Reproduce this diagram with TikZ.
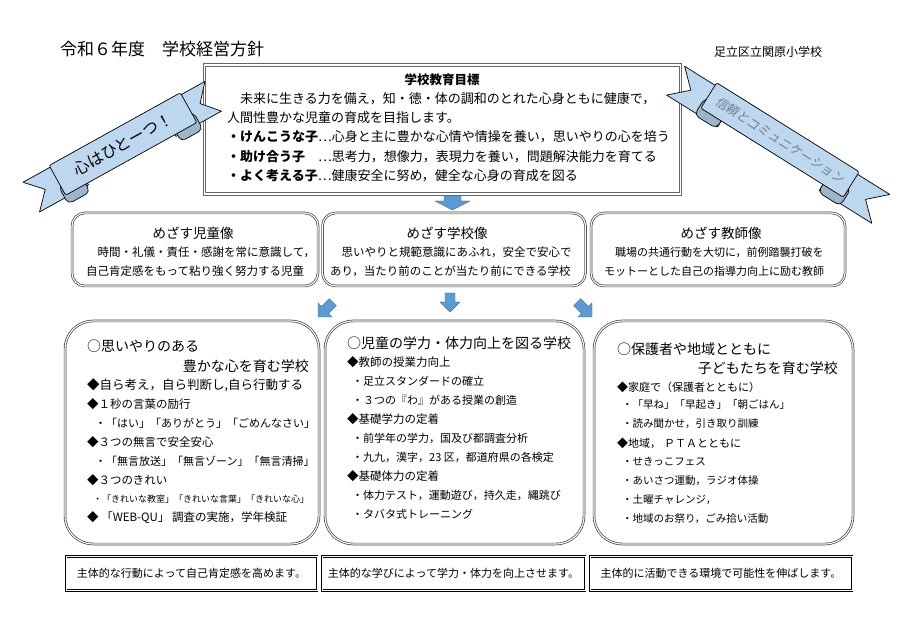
\documentclass[tikz,border=0pt]{standalone}
\usepackage{fontspec}
\setmainfont{Noto Sans CJK JP}
\newfontfamily\jpslant[FakeSlant=0.2]{Noto Sans CJK JP}
\newcommand{\jpsize}[1]{\fontsize{#1}{#1}\selectfont}
\definecolor{ribbonblue}{HTML}{BDD7EE}
\definecolor{ribbonfold}{HTML}{9DB4CB}
\definecolor{arrowblue}{HTML}{5B9BD5}
\definecolor{arrowedge}{HTML}{41719C}
\definecolor{slogangray}{HTML}{6E7F91}
\begin{document}
\begin{tikzpicture}[x=1pt,y=-1pt,
 txt/.style={anchor=west, inner sep=0pt},
 goalbox/.style={draw=black!60, double=white, double distance=1.3pt, line width=1.1pt, inner sep=0pt},
 midbox/.style={draw=black!75, double=white, double distance=1.1pt, line width=0.7pt, rounded corners=13pt, inner sep=0pt},
 bigbox/.style={midbox, rounded corners=28pt},
 stripbox/.style={draw=black, double=white, double distance=0.7pt, line width=1pt, inner sep=0pt},
 band/.style={fill=ribbonblue, draw=black, line width=0.7pt, line join=round},
 fold/.style={fill=ribbonfold, draw=black, line width=0.7pt, rounded corners=5pt},
 blockarrow/.style={fill=arrowblue, draw=arrowedge, line width=0.4pt, line join=round},
 head/.style={txt, font=\jpsize{14}},
 item/.style={txt, font=\jpsize{11.5}},
 sub/.style={txt, font=\jpsize{11}},
]
\useasboundingbox (0,0) rectangle (900,636);
\fill[white] (0,0) rectangle (900,636);

% header
\node[txt, font=\jpsize{17}] (title) at (60,49) {令和６年度　学校経営方針};
\node[txt, font=\jpsize{12}] (school) at (714,52) {足立区立関原小学校};

% goal box
\node[goalbox, minimum width=476pt, minimum height=129pt] (goal) at (442.5,129.5) {};
\node[font=\bfseries\jpsize{12.5}, inner sep=0pt] (goalT) at (442,80) {学校教育目標};
\begin{scope}[every node/.style={txt, font=\jpsize{13}}]
\node (g1) at (227,99) {　未来に生きる力を備え，知・徳・体の調和のとれた心身ともに健康で，};
\node (g2) at (227,118) {人間性豊かな児童の育成を目指します。};
\node (g3) at (227,137) {\textbf{・けんこうな子}…心身と主に豊かな心情や情操を養い，思いやりの心を培う};
\node (g4) at (227,157) {\textbf{・助け合う子}　…思考力，想像力，表現力を養い，問題解決能力を育てる};
\node (g5) at (227,176) {\textbf{・よく考える子}…健康安全に努め，健全な心身の育成を図る};
\end{scope}

% arrow below goal
\filldraw[blockarrow] (444,196) -- (461,196) -- (461,201) -- (470,201) -- (452.5,210) -- (435,201) -- (444,201) -- cycle;

% middle boxes
\node[midbox, minimum width=246pt, minimum height=73pt] (kidbox) at (195,249.5) {};
\node[midbox, minimum width=263pt, minimum height=73pt] (schbox) at (454,249.5) {};
\node[midbox, minimum width=254pt, minimum height=73pt] (teabox) at (718,249.5) {};
\node[font=\jpsize{13.5}, inner sep=0pt] (kidT) at (193,233) {めざす児童像};
\node[font=\jpsize{13.5}, inner sep=0pt] (schT) at (447,233) {めざす学校像};
\node[font=\jpsize{13.5}, inner sep=0pt] (teaT) at (721,233) {めざす教師像};
\begin{scope}[every node/.style={txt, font=\jpsize{11.5}}]
\node (k1) at (86,252) {　時間・礼儀・責任・感謝を常に意識して，};
\node (k2) at (86,271) {自己肯定感をもって粘り強く努力する児童};
\node (s1) at (330,252) {　思いやりと規範意識にあふれ，安全で安心で};
\node (s2) at (330,271) {あり，当たり前のことが当たり前にできる学校};
\end{scope}
\begin{scope}[every node/.style={txt, font=\jpsize{11}}]
\node (t1) at (604,252) {　職場の共通行動を大切に，前例踏襲打破を};
\node (t2) at (604,271) {モットーとした自己の指導力向上に励む教師};
\end{scope}

% three arrows
\begin{scope}[shift={(318,317)}, rotate=225]
\filldraw[blockarrow] (0,0) -- (-10,-10) -- (-10,-5) -- (-21,-5) -- (-21,5) -- (-10,5) -- (-10,10) -- cycle;
\end{scope}
\filldraw[blockarrow] (445,293) -- (455,293) -- (455,302) -- (460,302) -- (450,312) -- (440,302) -- (445,302) -- cycle;
\begin{scope}[shift={(592,317)}, rotate=-45]
\filldraw[blockarrow] (0,0) -- (-10,-10) -- (-10,-5) -- (-21,-5) -- (-21,5) -- (-10,5) -- (-10,10) -- cycle;
\end{scope}

% big boxes
\node[bigbox, minimum width=254pt, minimum height=223pt] (boxA) at (192,432.5) {};
\node[bigbox, minimum width=259pt, minimum height=223pt] (boxB) at (454.5,432.5) {};
\node[bigbox, minimum width=259pt, minimum height=223pt] (boxC) at (723.5,432.5) {};

% box A
\node[head] (a0) at (87,346) {○思いやりのある};
\node[head, anchor=east] (a1) at (309,366) {豊かな心を育む学校};
\node[txt, font=\jpsize{12.5}] (a2) at (87,385) {◆自ら考え，自ら判断し,自ら行動する};
\node[item] (a3) at (87,404) {◆１秒の言葉の励行};
\node[sub] (a4) at (95,423) {・「はい」「ありがとう」「ごめんなさい」};
\node[item] (a5) at (87,442) {◆３つの無言で安全安心};
\node[sub] (a6) at (95,461) {・「無言放送」「無言ゾーン」「無言清掃」};
\node[item] (a7) at (87,480) {◆３つのきれい};
\node[txt, font=\jpsize{9}] (a8) at (93,499) {・「きれいな教室」「きれいな言葉」「きれいな心」};
\node[item] (a9) at (87,518) {◆ 「WEB-QU」 調査の実施，学年検証};

% box B
\node[head] (b0) at (347,343) {○児童の学力・体力向上を図る学校};
\node[item] (b1) at (347,362) {◆教師の授業力向上};
\node[sub] (b2) at (352,381) {・足立スタンダードの確立};
\node[sub] (b3) at (352,400) {・３つの『わ』がある授業の創造};
\node[item] (b4) at (347,419) {◆基礎学力の定着};
\node[sub] (b5) at (352,438) {・前学年の学力，国及び都調査分析};
\node[sub] (b6) at (352,457) {・九九，漢字，23 区，都道府県の各検定};
\node[item] (b7) at (347,476) {◆基礎体力の定着};
\node[sub] (b8) at (352,495) {・体力テスト，運動遊び，持久走，縄跳び};
\node[sub] (b9) at (352,514) {・タバタ式トレーニング};

% box C
\node[head] (c0) at (617,349) {○保護者や地域とともに};
\node[head, anchor=east] (c1) at (838,368) {子どもたちを育む学校};
\node[txt, font=\jpsize{11}] (c2) at (617,387) {◆家庭で（保護者とともに）};
\node[txt, font=\jpsize{10.5}] (c3) at (622,405) {・「早ね」「早起き」「朝ごはん」};
\node[txt, font=\jpsize{10.5}] (c4) at (622,424) {・読み聞かせ，引き取り訓練};
\node[txt, font=\jpsize{11}] (c5) at (617,443) {◆地域，\hspace{3pt}ＰＴＡとともに};
\node[txt, font=\jpsize{10.5}] (c6) at (622,462) {・せきっこフェス};
\node[txt, font=\jpsize{10.5}] (c7) at (622,481) {・あいさつ運動，ラジオ体操};
\node[txt, font=\jpsize{10.5}] (c8) at (622,500) {・土曜チャレンジ，};
\node[txt, font=\jpsize{10.5}] (c9) at (622,519) {・地域のお祭り，ごみ拾い活動};

% strip boxes
\node[stripbox, minimum width=251pt, minimum height=34pt] (stA) at (191.5,573.5) {};
\node[stripbox, minimum width=263pt, minimum height=34pt] (stB) at (453.5,573.5) {};
\node[stripbox, minimum width=262pt, minimum height=34pt] (stC) at (721,573.5) {};
\node[font=\jpsize{11}, inner sep=0pt] (stAt) at (stA) {主体的な行動によって自己肯定感を高めます。};
\node[font=\jpsize{11}, inner sep=0pt] (stBt) at (stB) {主体的な学びによって学力・体力を向上させます。};
\node[font=\jpsize{11}, inner sep=0pt] (stCt) at (stC) {主体的に活動できる環境で可能性を伸ばします。};

% left ribbon
\begin{scope}[shift={(123,144)}, rotate=29]
\filldraw[band] (-50,-15) -- (-106,-15) -- (-90,2) -- (-106,19) -- (-50,19) -- cycle;
\filldraw[band] (50,-15) -- (102,-15) -- (87,2) -- (102,19) -- (50,19) -- cycle;
\filldraw[fold] (-77,6) rectangle (-52,26);
\filldraw[fold] (52,6) rectangle (77,26);
\filldraw[band, rounded corners=2pt] (-75,-17) rectangle (75,17);
\node[rotate=29, font=\jpsize{16}, inner sep=0pt] (kokoro) at (0,0) {心はひとーつ！};
\end{scope}

% right ribbon
\begin{scope}[shift={(780,140)}, rotate=-32]
\filldraw[band] (-60,-12) -- (-120,-12) -- (-102,5) -- (-120,22) -- (-60,22) -- cycle;
\filldraw[band] (60,-12) -- (122,-12) -- (104,5) -- (122,22) -- (60,22) -- cycle;
\filldraw[fold] (-86,4) rectangle (-60,24);
\filldraw[fold] (60,4) rectangle (86,24);
\filldraw[band, rounded corners=2pt] (-84,-15) rectangle (84,15);
\node[rotate=-32, font=\jpslant\jpsize{12.5}, text=slogangray, inner sep=0pt] (trust) at (0,0) {信頼とコミュニケーション};
\end{scope}
\end{tikzpicture}
\end{document}
